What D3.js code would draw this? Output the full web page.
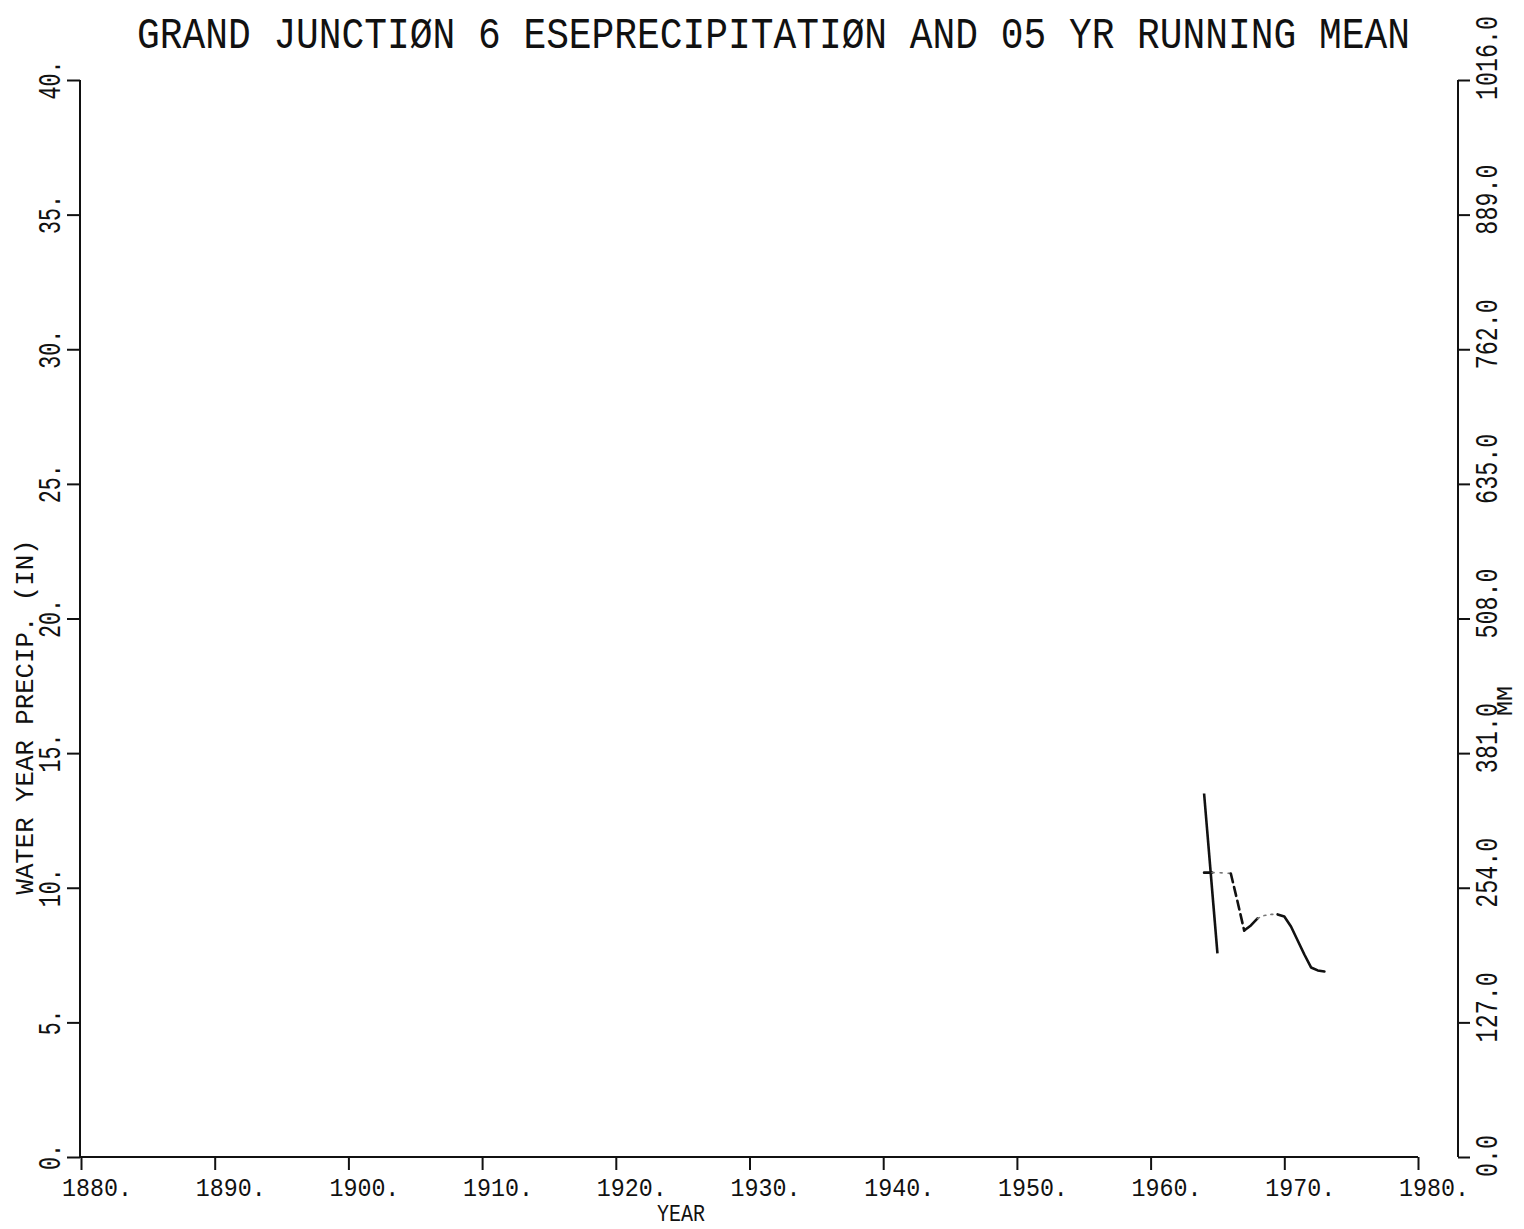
<!DOCTYPE html>
<html>
<head>
<meta charset="utf-8">
<script src="https://cdn.jsdelivr.net/npm/d3@7"></script>
<style>
  html, body { margin: 0; padding: 0; background: #fff; }
  svg { display: block; }
  text { font-family: "Liberation Mono", "DejaVu Sans Mono", monospace; fill: #111; }
</style>
</head>
<body>
<script>
// ---------- data ----------
const titleText = "GRAND JUNCTIØN 6 ESEPRECIPITATIØN AND 05 YR RUNNING MEAN";
const xTickYears = [1880, 1890, 1900, 1910, 1920, 1930, 1940, 1950, 1960, 1970, 1980];
const xTickLabels = ["1880.", "1890.", "1900.", "1910.", "1920.", "1930.", "1940.", "1950.", "1960.", "1970.", "1980."];
const leftTicks = [0, 5, 10, 15, 20, 25, 30, 35, 40];
const leftTickLabels = ["0.", "5.", "10.", "15.", "20.", "25.", "30.", "35.", "40."];
const rightTicks = [0, 127, 254, 381, 508, 635, 762, 889, 1016];
const rightTickLabels = ["0.0", "127.0", "254.0", "381.0", "508.0", "635.0", "762.0", "889.0", "1016.0"];

// annual water-year precipitation (in)
const annualYears = [1964, 1965];
const annualPrecip = [13.50, 7.56];

// 5-yr running mean (in)
const meanYears = [1964.0, 1964.6, 1965.0, 1965.5, 1966.0, 1966.5, 1967.0, 1967.5, 1968.0, 1968.5,
                   1969.0, 1969.5, 1970.0, 1970.5, 1971.0, 1971.5, 1972.0, 1972.5, 1973.0];
const meanPrecip = [10.56, 10.56, 10.56, 10.55, 10.53, 9.49, 8.41, 8.60, 8.86, 8.97,
                    9.01, 9.01, 8.93, 8.56, 8.04, 7.52, 7.04, 6.93, 6.89];

// ---------- layout ----------
const W = 1524, H = 1229;
const svg = d3.select("body").append("svg").attr("width", W).attr("height", H);

const x = d3.scaleLinear().domain([1880, 1980]).range([81, 1418]);
const y = d3.scaleLinear().domain([0, 40]).range([1157, 80]);
const yR = d3.scaleLinear().domain([0, 1016]).range([1157, 80]);
const leftX = 80, rightX = 1458, baseY = 1157;
const ink = "#111";

// monospace text squeezed to a target width via a horizontal scale transform
function label(g, str, px, py, size, width, rot, anchor) {
  const natural = str.length * 0.6 * size;
  const sx = width / natural;
  return g.append("text")
    .attr("transform", `translate(${px},${py}) rotate(${rot}) scale(${sx},1)`)
    .attr("font-size", size)
    .attr("text-anchor", anchor)
    .text(str);
}

// Title
label(svg, titleText, 137, 48, 44, 1273, 0, "start");

// Bottom axis (ticks pointing down)
const xAxis = d3.axisBottom(x).tickValues(xTickYears).tickSize(13).tickFormat("");
const gx = svg.append("g").attr("transform", `translate(0,${baseY})`).call(xAxis);
gx.select(".domain").attr("d", `M${leftX},0H${x(1980)}`).attr("stroke", ink).attr("stroke-width", 2);
gx.selectAll(".tick line").attr("stroke", ink).attr("stroke-width", 2);

const gxl = svg.append("g");
xTickYears.forEach((d, i) => label(gxl, xTickLabels[i], x(d) - 19, 1196, 26, xTickLabels[i].length * 14, 0, "start"));

// Left axis (ticks pointing left)
const yAxis = d3.axisLeft(y).tickValues(leftTicks).tickSize(13).tickFormat("");
const gy = svg.append("g").attr("transform", `translate(${leftX},0)`).call(yAxis);
gy.select(".domain").attr("d", `M0,${y(40)}V${baseY}`).attr("stroke", ink).attr("stroke-width", 2);
gy.selectAll(".tick line").attr("stroke", ink).attr("stroke-width", 2);

const gyl = svg.append("g");
leftTicks.forEach((d, i) => label(gyl, leftTickLabels[i], 60, y(d), 32, leftTickLabels[i].length * 13, -90, "middle"));

// Right axis (ticks pointing right)
const yAxisR = d3.axisRight(yR).tickValues(rightTicks).tickSize(12).tickFormat("");
const gyr = svg.append("g").attr("transform", `translate(${rightX},0)`).call(yAxisR);
gyr.select(".domain").attr("d", `M0,${yR(1016)}V${yR(0)}`).attr("stroke", ink).attr("stroke-width", 2);
gyr.selectAll(".tick line").attr("stroke", ink).attr("stroke-width", 2);

const gyrl = svg.append("g");
rightTicks.forEach((d, i) => label(gyrl, rightTickLabels[i], 1497, yR(d) + 20, 32, rightTickLabels[i].length * 14, -90, "start"));

// Axis titles
label(svg, "WATER YEAR PRECIP. (IN)", 33, 717, 26, 355, -90, "middle");
label(svg, "MM", 1512, 701, 22, 30, -90, "middle");
label(svg, "YEAR", 681, 1221, 23, 48, 0, "middle");

// ---------- data lines ----------
const line = d3.line().x(d => x(d[0])).y(d => y(d[1]));

const annualPts = annualYears.map((yr, i) => [yr, annualPrecip[i]]);
svg.append("path").datum(annualPts)
  .attr("d", line).attr("fill", "none")
  .attr("stroke", ink).attr("stroke-width", 2.6);

const meanPts = meanYears.map((yr, i) => [yr, meanPrecip[i]]);
// plotter pen styles along the running mean (index ranges)
const meanStyles = [
  { from: 0, to: 1, dash: null, w: 2.6, c: ink },
  { from: 1, to: 4, dash: "2,6", w: 1.6, c: "#777" },
  { from: 4, to: 6, dash: "9,5", w: 2.6, c: ink },
  { from: 6, to: 8, dash: null, w: 2.6, c: ink },
  { from: 8, to: 11, dash: "2,5", w: 1.6, c: "#777" },
  { from: 11, to: 18, dash: null, w: 2.6, c: ink }
];
svg.append("g").selectAll("path").data(meanStyles).join("path")
  .attr("d", s => line(meanPts.slice(s.from, s.to + 1)))
  .attr("fill", "none")
  .attr("stroke", s => s.c)
  .attr("stroke-width", s => s.w)
  .attr("stroke-dasharray", s => s.dash)
  .attr("stroke-linecap", "round").attr("stroke-linejoin", "round");
</script>
</body>
</html>
